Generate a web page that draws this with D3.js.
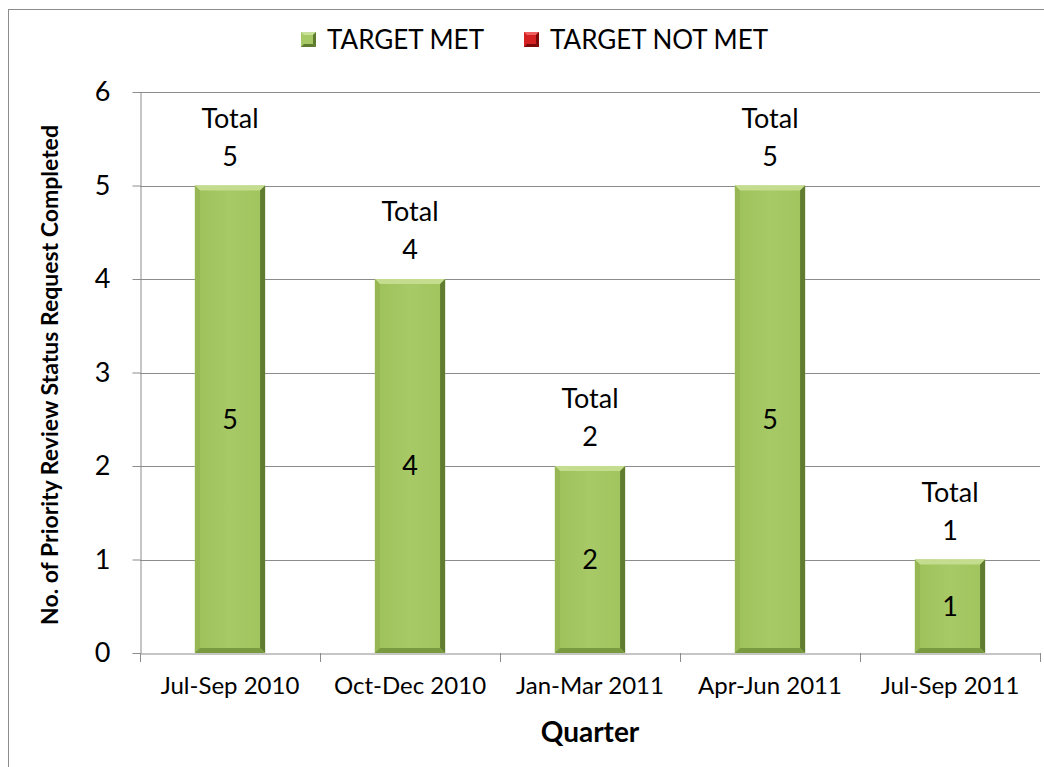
<!DOCTYPE html>
<html><head><meta charset="utf-8">
<script src="https://cdn.jsdelivr.net/npm/d3@7"></script>
<style>
body{margin:0;background:#fff;}
svg{display:block;font-family:Lato, "Open Sans", sans-serif;}
</style></head>
<body>
<svg id="c" width="1044" height="767"></svg>
<script>
const categories = ["Jul-Sep 2010","Oct-Dec 2010","Jan-Mar 2011","Apr-Jun 2011","Jul-Sep 2011"];
const targetMet = [5,4,2,5,1];
const targetNotMet = [0,0,0,0,0];
const yTicks = [0,1,2,3,4,5,6];
const legendLabels = ["TARGET MET","TARGET NOT MET"];
const yTitle = "No. of Priority Review Status Request Completed";
const xTitle = "Quarter";

(function(){
const svg = d3.select("#c");
const totals = targetMet.map((v,i)=>v+targetNotMet[i]);

// chart border
svg.append("rect").attr("x",8.5).attr("y",9.5).attr("width",1100).attr("height",1100)
  .attr("fill","none").attr("stroke","#8c8c8c").attr("stroke-width",1);

const pL=140, pR=1040, pT=92, pB=653;
const x = d3.scaleBand().domain(categories).range([pL,pR]).padding(0);
const y = d3.scaleLinear().domain([0,6]).range([pB,pT]);

// gridlines
svg.append("g").selectAll("line").data(yTicks.filter(d=>d>0)).join("line")
  .attr("x1",pL).attr("x2",pR).attr("y1",d=>Math.round(y(d))+0.5).attr("y2",d=>Math.round(y(d))+0.5)
  .attr("stroke","#8c8c8c").attr("stroke-width",1);

// y axis
const ya = svg.append("g").attr("transform",`translate(${pL+0.5},0)`)
  .call(d3.axisLeft(y).tickValues(yTicks).tickSize(8).tickPadding(22).tickSizeOuter(0).tickFormat(d3.format("d")));
ya.selectAll("path,line").attr("stroke","#8c8c8c");
ya.selectAll("text").attr("font-size",27).attr("fill","#000").attr("font-family","Lato");

// x axis
const xa = svg.append("g").attr("transform",`translate(0,${Math.round(pB)+0.5})`)
  .call(d3.axisBottom(x).tickSize(0).tickPadding(23).tickSizeOuter(0));
xa.select("path").attr("stroke","#8c8c8c");
xa.selectAll("text").attr("font-size",24).attr("fill","#000").attr("font-family","Lato");
const bounds = categories.map(c=>x(c)).concat([pR]);
svg.append("g").selectAll("line").data(bounds).join("line")
  .attr("x1",d=>Math.round(d)+0.5).attr("x2",d=>Math.round(d)+0.5)
  .attr("y1",pB).attr("y2",pB+9).attr("stroke","#8c8c8c");

// gradients
const defs = svg.append("defs");
const g1 = defs.append("linearGradient").attr("id","gfill").attr("x1",0).attr("x2",1).attr("y1",0).attr("y2",0);
g1.append("stop").attr("offset","0%").attr("stop-color","#9fc15b");
g1.append("stop").attr("offset","50%").attr("stop-color","#a7c966");
g1.append("stop").attr("offset","100%").attr("stop-color","#a2c45e");

// bars
const bw = x.bandwidth()*0.39;
const bev = 5;
const barsG = svg.append("g");
categories.forEach((c,i)=>{
  const v = targetMet[i];
  const x0 = x(c)+(x.bandwidth()-bw)/2, x1 = x0+bw;
  const y0 = y(v), y1 = y(0);
  const g = barsG.append("g");
  g.append("rect").attr("x",x0).attr("y",y0).attr("width",bw).attr("height",y1-y0).attr("fill","url(#gfill)");
  g.append("polygon").attr("points",[[x0,y0],[x1,y0],[x1-bev,y0+bev],[x0+bev,y0+bev]].join(" ")).attr("fill","#c3dc8e");
  g.append("polygon").attr("points",[[x0,y0],[x0+bev,y0+bev],[x0+bev,y1-bev],[x0,y1]].join(" ")).attr("fill","#96b754");
  g.append("polygon").attr("points",[[x1,y0],[x1,y1],[x1-bev,y1-bev],[x1-bev,y0+bev]].join(" ")).attr("fill","#607c30");
  g.append("polygon").attr("points",[[x0,y1],[x1,y1],[x1-bev,y1-bev],[x0+bev,y1-bev]].join(" ")).attr("fill","#7a9a40");
  g.append("text").attr("x",x(c)+x.bandwidth()/2).attr("y",(y0+y1)/2).attr("dy","0.35em")
    .attr("text-anchor","middle").attr("font-size",27).text(v);
  g.append("text").attr("x",x(c)+x.bandwidth()/2).attr("y",y(totals[i])-67).attr("dy","0.35em")
    .attr("text-anchor","middle").attr("font-size",27).text("Total");
  g.append("text").attr("x",x(c)+x.bandwidth()/2).attr("y",y(totals[i])-29).attr("dy","0.35em")
    .attr("text-anchor","middle").attr("font-size",27).text(totals[i]);
});

// legend
const legColors = [["#a6c865","#c9e09a","#5f7b2f"],["#d42020","#f06060","#7a0a0a"]];
const legX = [301,524];
legendLabels.forEach((t,i)=>{
  const lx = legX[i], ly=32, s=15;
  const g = svg.append("g");
  g.append("rect").attr("x",lx).attr("y",ly).attr("width",s).attr("height",s).attr("fill",legColors[i][0]);
  g.append("polygon").attr("points",[[lx,ly],[lx+s,ly],[lx+s-3,ly+3],[lx+3,ly+3]].join(" ")).attr("fill",legColors[i][1]);
  g.append("polygon").attr("points",[[lx+s,ly],[lx+s,ly+s],[lx+s-3,ly+s-3],[lx+s-3,ly+3]].join(" ")).attr("fill",legColors[i][2]);
  g.append("polygon").attr("points",[[lx,ly+s],[lx+s,ly+s],[lx+s-3,ly+s-3],[lx+3,ly+s-3]].join(" ")).attr("fill",legColors[i][2]);
  g.append("text").attr("x",lx+s+11).attr("y",ly+s/2).attr("dy","0.35em").attr("font-size",26).text(t);
});

// axis titles
svg.append("text").attr("transform",`translate(50,375) rotate(-90)`)
  .attr("text-anchor","middle").attr("dy","0.35em").attr("font-size",23).attr("font-weight","bold").text(yTitle);
svg.append("text").attr("x",590).attr("y",732).attr("dy","0.35em").attr("text-anchor","middle")
  .attr("font-size",28).attr("font-weight","bold").text(xTitle);
})();
</script>
</body></html>
